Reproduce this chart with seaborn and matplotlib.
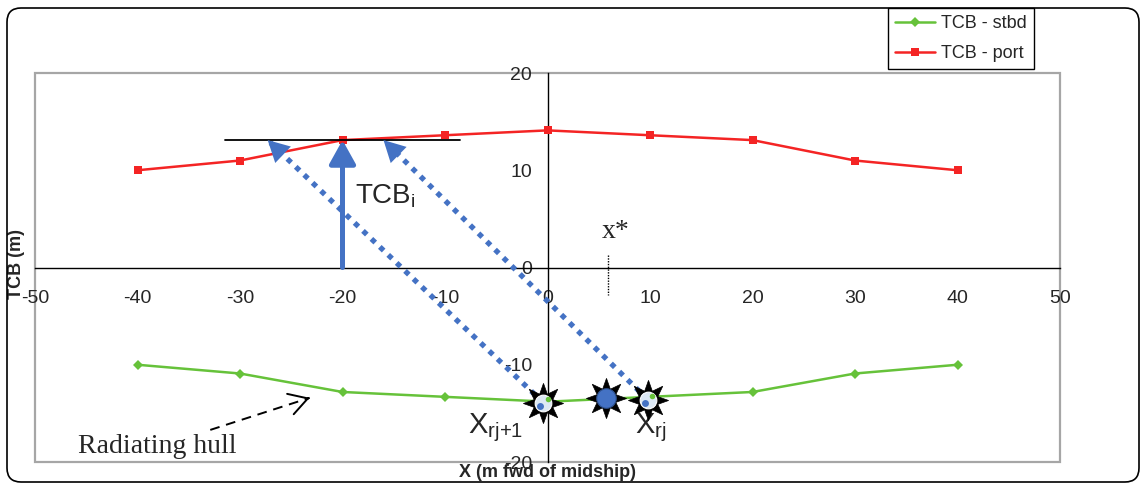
import numpy as np
import pandas as pd
import matplotlib
matplotlib.use("Agg")
import matplotlib.pyplot as plt
import seaborn as sns
from matplotlib.patches import Rectangle, FancyBboxPatch
from matplotlib.transforms import IdentityTransform

# ---------------- data ----------------
x_pos = [-40, -30, -20, -10, 0, 10, 20, 30, 40]
tcb_stbd = [-10.0, -10.9, -12.8, -13.3, -13.8, -13.3, -12.8, -10.9, -10.0]
tcb_port = [10.0, 11.0, 13.1, 13.6, 14.1, 13.6, 13.1, 11.0, 10.0]
series_names = ["TCB - stbd", "TCB - port"]
x_ticks = [-50, -40, -30, -20, -10, 0, 10, 20, 30, 40, 50]
y_ticks = [-20, -10, 0, 10, 20]

# annotation anchors (data units)
tcb_i_x, tcb_i_y = -20, 13.1
hline_x = [-31.5, -8.5]
star_x = [-0.4, 5.7, 9.8]
star_y = [-13.9, -13.4, -13.6]
ray_tip_x = [-27.3, -16.0]
xstar_x = 5.9
hull_arrow_start = (-32.9, -16.7)
hull_arrow_end = (-23.2, -13.4)

# ---------------- style ----------------
sns.set_style("white")
plt.rcParams["font.family"] = ["Liberation Sans", "DejaVu Sans"]
plt.rcParams["mathtext.default"] = "regular"
plt.rcParams["axes.unicode_minus"] = False

GREEN = "#66C23A"
RED = "#F42424"
BLUE = "#4472C4"
GRAY = "#A6A6A6"

fig = plt.figure(figsize=(11.41, 4.84), dpi=100)
fig.patch.set_facecolor("white")
ax = fig.add_axes([35 / 1141, 1 - 462 / 484, 1025 / 1141, 389 / 484])

df = pd.DataFrame({
    "x": x_pos + x_pos,
    "TCB": tcb_stbd + tcb_port,
    "series": [series_names[0]] * len(x_pos) + [series_names[1]] * len(x_pos),
})

sns.lineplot(data=df, x="x", y="TCB", hue="series", style="series",
             palette={series_names[0]: GREEN, series_names[1]: RED},
             markers={series_names[0]: "D", series_names[1]: "s"},
             dashes=False, linewidth=1.8, markersize=5.5,
             markeredgewidth=0, ax=ax, zorder=3)

ax.set_xlim(-50, 50)
ax.set_ylim(-20, 20)
ax.set_xticks(x_ticks)
ax.set_yticks(y_ticks)
ax.set_xlabel("")
ax.set_ylabel("")

# spines through origin
for s in ["left", "bottom"]:
    ax.spines[s].set_position(("data", 0))
    ax.spines[s].set_color("black")
    ax.spines[s].set_linewidth(1.0)
for s in ["top", "right"]:
    ax.spines[s].set_visible(False)
ax.add_patch(Rectangle((0, 0), 1, 1, transform=ax.transAxes, fill=False,
                       edgecolor=GRAY, lw=1.6, clip_on=False, zorder=0.5))

ax.tick_params(axis="x", direction="out", length=5, width=1, color="black",
               pad=11, labelsize=14)
ax.tick_params(axis="y", direction="out", length=5, width=1, color="black",
               pad=6, labelsize=14)

# axis labels
ax.text(0.5, -0.006, "X (m fwd of midship)", transform=ax.transAxes,
        ha="center", va="top", fontsize=13, fontweight="bold")
ax.text(-0.0176, 0.509, "TCB (m)", transform=ax.transAxes, rotation=90,
        ha="center", va="center", fontsize=13, fontweight="bold")

# legend
handles, labels = ax.get_legend_handles_labels()
ax.legend(handles, labels, loc="upper left",
          bbox_to_anchor=(888 / 1141, 1 - 8 / 484), bbox_transform=fig.transFigure,
          frameon=True, fancybox=False, edgecolor="black", framealpha=1,
          fontsize=13, handlelength=2.2, handletextpad=0.35, borderpad=0.4,
          labelspacing=0.7, borderaxespad=0)
ax.get_legend().get_frame().set_linewidth(1.0)

# black horizontal line at TCB_i
ax.plot(hline_x, [tcb_i_y, tcb_i_y], color="black", lw=1.3, zorder=4)

# solid TCB_i arrow
ax.annotate("", xy=(tcb_i_x, tcb_i_y), xytext=(tcb_i_x, 0),
            arrowprops=dict(arrowstyle="-|>,head_length=0.45,head_width=0.25",
                            mutation_scale=32, lw=3.6, color=BLUE,
                            shrinkA=0, shrinkB=0), zorder=5)
ax.text(tcb_i_x + 1.2, 6.6, "TCB$_i$", fontsize=20, ha="left", va="baseline")

# dotted rays with arrow heads
for (sx, sy, tx) in [(star_x[0], star_y[0], ray_tip_x[0]),
                     (star_x[2], star_y[2], ray_tip_x[1])]:
    ax.plot([sx, tx], [sy, tcb_i_y], color=BLUE, lw=3.8,
            linestyle=(0, (1, 1.2)), dash_capstyle="butt", zorder=4)
    ax.annotate("", xy=(tx, tcb_i_y), xytext=(sx, sy),
                arrowprops=dict(arrowstyle="-|>,head_length=0.45,head_width=0.24",
                                mutation_scale=34, lw=0, color=BLUE,
                                shrinkA=0, shrinkB=0), zorder=5)

# stars
ax.plot(star_x, star_y, linestyle="none", marker=(8, 1, 0), markersize=29,
        color="black", markeredgecolor="black", markeredgewidth=0.5, zorder=6)
ax.plot([star_x[0], star_x[2]], [star_y[0], star_y[2]], linestyle="none",
        marker="o", markersize=12, markerfacecolor="#DCE8F4",
        markeredgecolor="white", markeredgewidth=0.8, zorder=7)
ax.plot([star_x[0] - 0.3, star_x[2] - 0.3], [star_y[0] - 0.3, star_y[2] - 0.3],
        linestyle="none", marker="o", markersize=5, markerfacecolor=BLUE,
        markeredgewidth=0, zorder=8)
ax.plot([star_x[0] + 0.4, star_x[2] + 0.4], [star_y[0] + 0.35, star_y[2] + 0.35],
        linestyle="none", marker="o", markersize=4, markerfacecolor=GREEN,
        markeredgewidth=0, zorder=8)
ax.plot([star_x[1]], [star_y[1]], linestyle="none", marker="o", markersize=14,
        markerfacecolor=BLUE, markeredgecolor="#2F528F", markeredgewidth=0.8,
        zorder=7)

# x* label with dotted marker line
ax.text(6.6, 3.0, "x*", fontsize=20, family=["Liberation Serif", "DejaVu Serif"],
        ha="center", va="baseline")
ax.plot([xstar_x, xstar_x], [1.3, -2.8], color="black", lw=1.0,
        linestyle=(0, (1, 1)), zorder=4)

# X_rj labels
ax.text(-7.8, -17.0, "X$_{rj{+}1}$", fontsize=21, ha="left", va="baseline")
ax.text(8.5, -17.0, "X$_{rj}$", fontsize=21, ha="left", va="baseline")

# Radiating hull label & dashed arrow
ax.text(-45.8, -19.1, "Radiating hull", fontsize=20,
        family=["Liberation Serif", "DejaVu Serif"], ha="left", va="baseline")
ax.plot([hull_arrow_start[0], hull_arrow_end[0]],
        [hull_arrow_start[1], hull_arrow_end[1]], color="black", lw=1.4,
        linestyle=(0, (5, 3.5)), zorder=4)
near_end = (hull_arrow_end[0] - 0.02 * (hull_arrow_end[0] - hull_arrow_start[0]),
            hull_arrow_end[1] - 0.02 * (hull_arrow_end[1] - hull_arrow_start[1]))
ax.annotate("", xy=hull_arrow_end, xytext=near_end,
            arrowprops=dict(arrowstyle="->,head_length=0.6,head_width=0.35",
                            mutation_scale=22, lw=1.4, color="black",
                            shrinkA=0, shrinkB=0, linestyle="-"), zorder=4)

# outer rounded frame (pixel coordinates)
frame = FancyBboxPatch((7, 2), 1132, 474,
                       boxstyle="round,pad=0,rounding_size=14",
                       transform=IdentityTransform(), fill=False,
                       edgecolor="black", lw=1.2)
fig.patches.append(frame)

fig.savefig("out.png", dpi=100, facecolor="white")
